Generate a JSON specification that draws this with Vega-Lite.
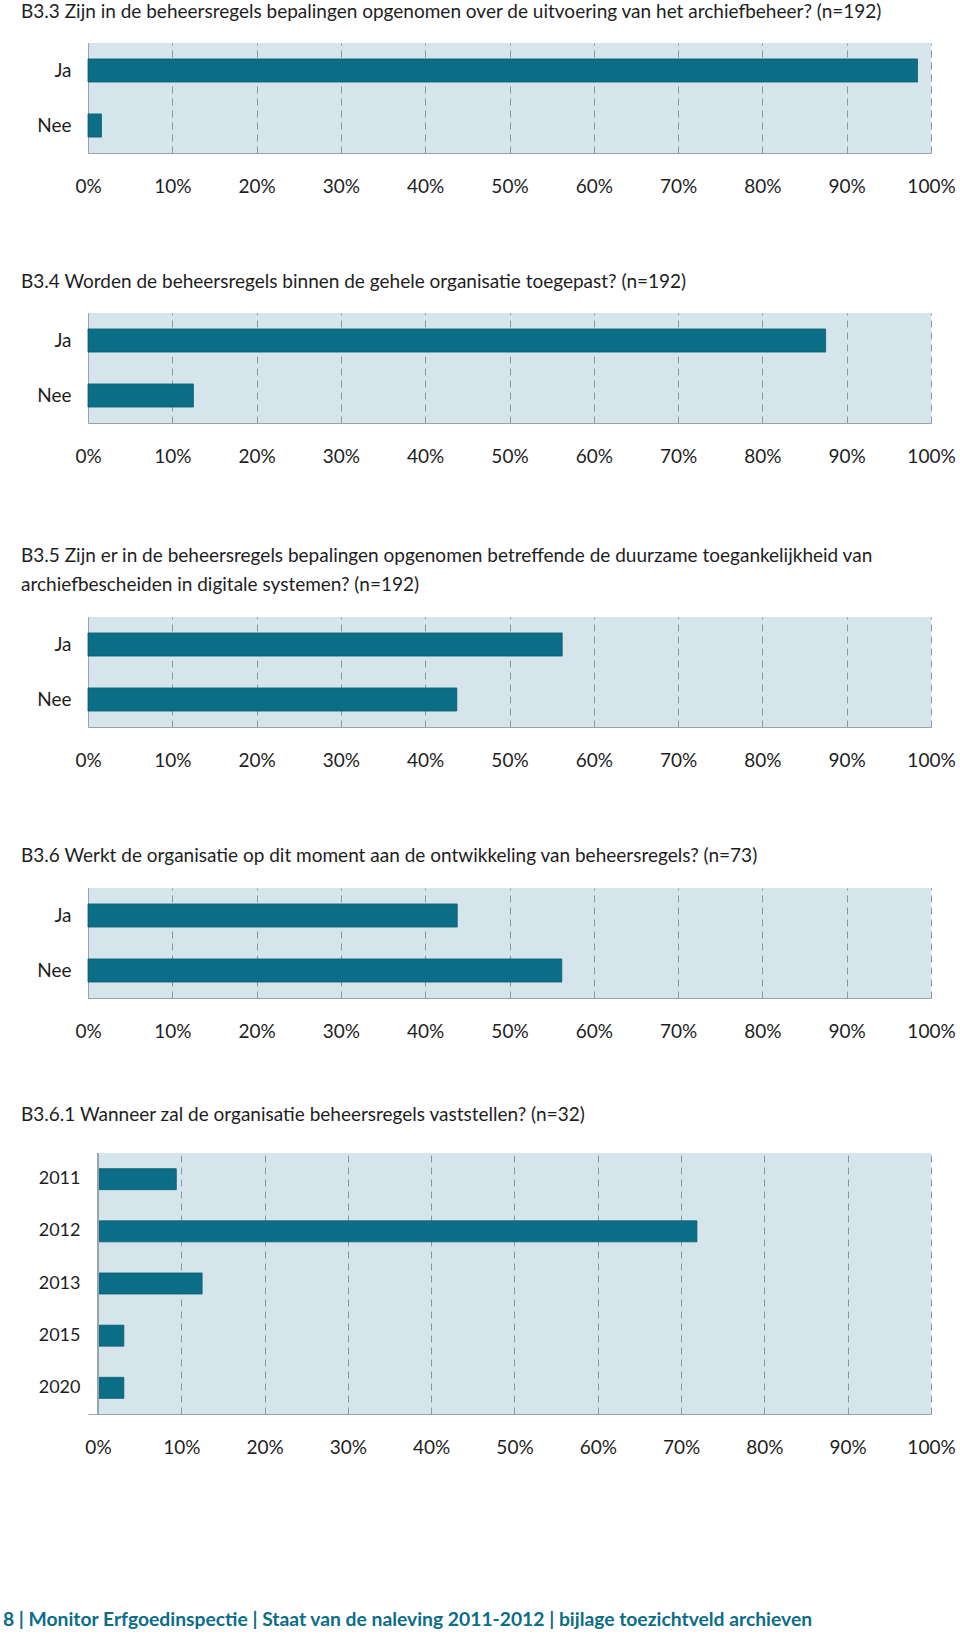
{
  "$schema": "https://vega.github.io/schema/vega-lite/v6.json",
  "padding": {"left": 3, "top": 3, "right": 2, "bottom": 4},
  "spacing": 0,
  "title": {
    "text": "8 | Monitor Erfgoedinspectie | Staat van de naleving 2011-2012 | bijlage toezichtveld archieven",
    "orient": "bottom",
    "anchor": "start",
    "frame": "bounds",
    "baseline": "top",
    "offset": 147,
    "dx": -18,
    "fontSize": 19.3,
    "fontWeight": "bold",
    "color": "#0b6d86"
  },
  "vconcat": [
    {
      "title": {"text": "B3.3 Zijn in de beheersregels bepalingen opgenomen over de uitvoering van het archiefbeheer? (n=192)", "offset": 21},
      "width": 843,
      "height": 110,
      "data": {"values": [{"antwoord": "Ja", "aandeel": 0.984}, {"antwoord": "Nee", "aandeel": 0.016}]},
      "mark": {"type": "bar"},
      "encoding": {
        "y": {"field": "antwoord", "type": "nominal", "sort": null, "scale": {"paddingInner": 0.58, "paddingOuter": 0.29}, "axis": {"labelPadding": 17, "minExtent": 67, "maxExtent": 67}},
        "x": {"field": "aandeel", "type": "quantitative", "scale": {"domain": [0, 1], "nice": false}, "axis": {"values": [0, 0.1, 0.2, 0.3, 0.4, 0.5, 0.6, 0.7, 0.8, 0.9, 1], "format": ".0%", "grid": true, "labelPadding": 24, "labelFlush": false, "minExtent": 120, "maxExtent": 120}}
      }
    },
    {
      "title": {"text": "B3.4 Worden de beheersregels binnen de gehele organisatie toegepast? (n=192)", "offset": 21},
      "width": 843,
      "height": 110,
      "data": {"values": [{"antwoord": "Ja", "aandeel": 0.875}, {"antwoord": "Nee", "aandeel": 0.125}]},
      "mark": {"type": "bar"},
      "encoding": {
        "y": {"field": "antwoord", "type": "nominal", "sort": null, "scale": {"paddingInner": 0.58, "paddingOuter": 0.29}, "axis": {"labelPadding": 17, "minExtent": 67, "maxExtent": 67}},
        "x": {"field": "aandeel", "type": "quantitative", "scale": {"domain": [0, 1], "nice": false}, "axis": {"values": [0, 0.1, 0.2, 0.3, 0.4, 0.5, 0.6, 0.7, 0.8, 0.9, 1], "format": ".0%", "grid": true, "labelPadding": 24, "labelFlush": false, "minExtent": 124, "maxExtent": 124}}
      }
    },
    {
      "title": {"text": ["B3.5 Zijn er in de beheersregels bepalingen opgenomen betreffende de duurzame toegankelijkheid van", "archiefbescheiden in digitale systemen? (n=192)"], "offset": 22, "lineHeight": 29},
      "width": 843,
      "height": 110,
      "data": {"values": [{"antwoord": "Ja", "aandeel": 0.5625}, {"antwoord": "Nee", "aandeel": 0.4375}]},
      "mark": {"type": "bar"},
      "encoding": {
        "y": {"field": "antwoord", "type": "nominal", "sort": null, "scale": {"paddingInner": 0.58, "paddingOuter": 0.29}, "axis": {"labelPadding": 17, "minExtent": 67, "maxExtent": 67}},
        "x": {"field": "aandeel", "type": "quantitative", "scale": {"domain": [0, 1], "nice": false}, "axis": {"values": [0, 0.1, 0.2, 0.3, 0.4, 0.5, 0.6, 0.7, 0.8, 0.9, 1], "format": ".0%", "grid": true, "labelPadding": 24, "labelFlush": false, "minExtent": 120, "maxExtent": 120}}
      }
    },
    {
      "title": {"text": "B3.6 Werkt de organisatie op dit moment aan de ontwikkeling van beheersregels? (n=73)", "offset": 22},
      "width": 843,
      "height": 110,
      "data": {"values": [{"antwoord": "Ja", "aandeel": 0.438}, {"antwoord": "Nee", "aandeel": 0.562}]},
      "mark": {"type": "bar"},
      "encoding": {
        "y": {"field": "antwoord", "type": "nominal", "sort": null, "scale": {"paddingInner": 0.58, "paddingOuter": 0.29}, "axis": {"labelPadding": 17, "minExtent": 67, "maxExtent": 67}},
        "x": {"field": "aandeel", "type": "quantitative", "scale": {"domain": [0, 1], "nice": false}, "axis": {"values": [0, 0.1, 0.2, 0.3, 0.4, 0.5, 0.6, 0.7, 0.8, 0.9, 1], "format": ".0%", "grid": true, "labelPadding": 24, "labelFlush": false, "minExtent": 107, "maxExtent": 107}}
      }
    },
    {
      "title": {"text": "B3.6.1 Wanneer zal de organisatie beheersregels vaststellen? (n=32)", "offset": 28},
      "width": 843,
      "height": 261,
      "data": {"values": [{"antwoord": "2011", "aandeel": 0.094}, {"antwoord": "2012", "aandeel": 0.719}, {"antwoord": "2013", "aandeel": 0.125}, {"antwoord": "2015", "aandeel": 0.031}, {"antwoord": "2020", "aandeel": 0.031}]},
      "layer": [
        {
          "mark": {"type": "rect", "color": "#ffffff", "strokeWidth": 0},
          "encoding": {
            "x": {"datum": -0.012, "type": "quantitative", "scale": {"domain": [-0.012, 1], "nice": false}, "axis": {"values": [0, 0.1, 0.2, 0.3, 0.4, 0.5, 0.6, 0.7, 0.8, 0.9, 1], "format": ".0%", "grid": true, "domain": true, "labelPadding": 24, "labelFlush": false, "minExtent": 50, "maxExtent": 50}},
            "x2": {"datum": 0}
          }
        },
        {
          "mark": {"type": "bar"},
          "encoding": {
            "y": {"field": "antwoord", "type": "nominal", "sort": null, "scale": {"paddingInner": 0.597, "paddingOuter": 0.3}, "axis": {"labelPadding": 8, "labelFontSize": 18, "domain": false, "minExtent": 67, "maxExtent": 67}},
            "x": {"field": "aandeel", "type": "quantitative", "scale": {"domain": [-0.012, 1], "nice": false}, "axis": {"values": [0, 0.1, 0.2, 0.3, 0.4, 0.5, 0.6, 0.7, 0.8, 0.9, 1], "format": ".0%", "grid": true, "domain": true, "labelPadding": 24, "labelFlush": false, "minExtent": 50, "maxExtent": 50}}
          }
        },
        {
          "mark": {"type": "rule", "color": "#98a4a8", "strokeWidth": 1},
          "encoding": {
            "x": {"datum": 0, "type": "quantitative"}
          }
        }
      ]
    }
  ],
  "config": {
    "font": "Lato",
    "view": {"fill": "#d5e5eb", "stroke": null},
    "axis": {
      "title": null,
      "labelFont": "Lato",
      "labelFontSize": 19,
      "labelColor": "#1e1e1e",
      "ticks": false,
      "domainColor": "#98a4a8",
      "domainWidth": 1,
      "gridColor": "#8a999f",
      "gridDash": [7, 5],
      "gridWidth": 1
    },
    "title": {
      "font": "Lato",
      "fontSize": 19,
      "fontWeight": "normal",
      "color": "#1e1e1e",
      "anchor": "start",
      "baseline": "bottom"
    },
    "bar": {"color": "#0b6d86", "stroke": "#0a5e73", "strokeWidth": 0.8}
  }
}
